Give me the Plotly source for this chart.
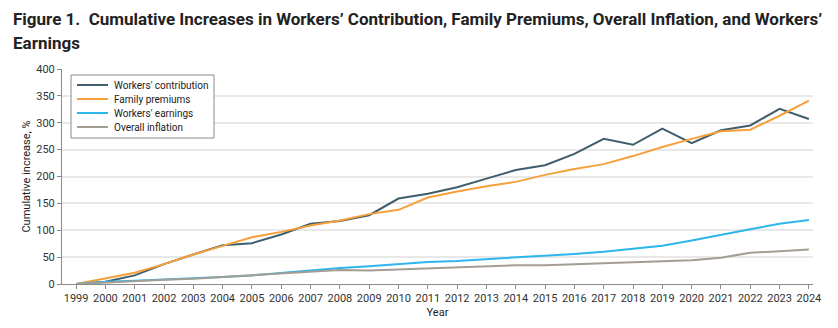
import plotly.graph_objects as go

years = list(range(1999, 2025))
workers_contribution = [0, 4, 16, 37, 55, 72, 76, 92, 112, 117, 128, 159, 168, 180, 196, 212, 221, 242, 270, 259, 289, 262, 286, 295, 326, 307]
family_premiums = [0, 10, 21, 37, 55, 71, 87, 97, 109, 118, 130, 138, 161, 172, 182, 190, 203, 214, 223, 238, 255, 270, 284, 287, 313, 341]
workers_earnings = [0, 4, 6, 8, 10, 13, 16, 21, 26, 30, 33, 37, 41, 43, 46, 50, 53, 56, 60, 66, 71, 81, 92, 102, 112, 119]
overall_inflation = [0, 3, 6, 8, 10, 13, 16, 19, 22, 26, 25, 27, 30, 32, 33, 35, 35, 37, 39, 41, 43, 44, 49, 58, 61, 64]

series_names = ["Workers' contribution", "Family premiums", "Workers' earnings", "Overall inflation"]
series_values = [workers_contribution, family_premiums, workers_earnings, overall_inflation]
series_colors = ["#3f5e6b", "#f6a03c", "#2cb6ec", "#a39d93"]

title_line1 = "Figure 1.  Cumulative Increases in Workers\u2019 Contribution, Family Premiums, Overall Inflation, and Workers\u2019"
title_line2 = "Earnings"

FONT = "Roboto, Lato, sans-serif"
W, H = 838, 328
ML, MR, MT, MB = 62, 25, 69, 44
PW, PH = W - ML - MR, H - MT - MB


def px(xp):
    return (xp - ML) / PW


def py(yp):
    return (H - MB - yp) / PH


fig = go.Figure()
for name, vals, color in zip(series_names, series_values, series_colors):
    fig.add_trace(go.Scatter(x=years, y=vals, name=name, mode="lines",
                             line=dict(color=color, width=2), showlegend=False))

annotations = [
    dict(text="<b>" + title_line1 + "</b>", x=px(11), y=py(19), xref="paper", yref="paper",
         xanchor="left", yanchor="middle", showarrow=False,
         font=dict(family=FONT, size=17, color="#222")),
    dict(text="<b>" + title_line2 + "</b>", x=px(11), y=py(43), xref="paper", yref="paper",
         xanchor="left", yanchor="middle", showarrow=False,
         font=dict(family=FONT, size=17, color="#222")),
]
shapes = [
    dict(type="rect", xref="paper", yref="paper", x0=px(71), x1=px(214), y0=py(138), y1=py(75),
         line=dict(color="#8a8a8a", width=1), fillcolor="white", layer="above"),
]
row_y = [85, 99, 113, 127]
for name, color, ry in zip(series_names, series_colors, row_y):
    shapes.append(dict(type="line", xref="paper", yref="paper", x0=px(77), x1=px(108),
                       y0=py(ry), y1=py(ry), line=dict(color=color, width=2), layer="above"))
    annotations.append(dict(text=name, x=px(112), y=py(ry), xref="paper", yref="paper",
                            xanchor="left", yanchor="middle", showarrow=False,
                            font=dict(family=FONT, size=10, color="#222")))

fig.update_layout(
    width=W, height=H,
    margin=dict(l=ML, r=MR, t=MT, b=MB, autoexpand=False),
    paper_bgcolor="white", plot_bgcolor="white",
    font=dict(family=FONT, size=11, color="#222"),
    annotations=annotations, shapes=shapes,
    showlegend=False,
)
fig.update_xaxes(
    range=[1998.52, 2024.14], tickmode="array", tickvals=years,
    ticktext=[str(y) for y in years],
    showgrid=False, showline=True, linecolor="#8a8a8a", linewidth=1,
    ticks="outside", ticklen=4, tickcolor="#8a8a8a", automargin=False,
    tickfont=dict(size=11, color="#333"), title=dict(text="Year", font=dict(size=11), standoff=4),
    zeroline=False,
)
fig.update_yaxes(
    range=[0, 400], tickvals=[0, 50, 100, 150, 200, 250, 300, 350, 400],
    showgrid=True, gridcolor="#e8e8e8", gridwidth=2,
    showline=True, linecolor="#8a8a8a", linewidth=1,
    ticks="outside", ticklen=4, tickcolor="#8a8a8a", automargin=False,
    tickfont=dict(size=11, color="#333"), title=dict(text="Cumulative increase, %", font=dict(size=11), standoff=3),
    zeroline=False,
)
fig.write_html("out.html")
